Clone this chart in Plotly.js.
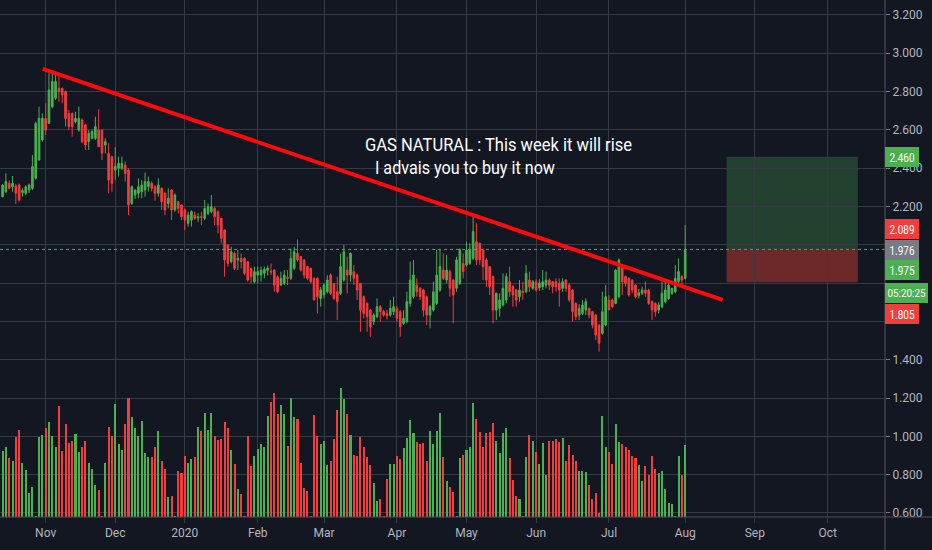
<!DOCTYPE html>
<html><head><meta charset="utf-8">
<script src="https://cdn.plot.ly/plotly-3.0.1.min.js"></script>
<style>html,body{margin:0;padding:0;background:#131722;}#chart{width:932px;height:550px;}</style>
</head><body><div id="chart"></div>
<script>
// ---- daily OHLC (natural gas), bars from 2019-10-15 to 2020-08-03 ----
const open = [
2.251,2.277,2.321,2.303,2.307,2.312,2.272,2.269,2.286,2.295,
2.347,2.443,2.547,2.660,2.634,2.721,2.765,2.817,2.817,2.800,
2.686,2.686,2.643,2.599,2.652,2.626,2.538,2.556,2.556,2.599,
2.599,2.521,2.478,2.460,2.390,
2.400,2.400,2.417,2.390,2.216,2.260,2.269,2.277,2.286,2.304,
2.321,2.303,2.269,2.295,2.269,2.216,2.286,2.182,2.225,2.208,
2.182,2.112,2.129,2.155,2.140,2.147,2.138,2.164,2.173,2.190,
2.173,2.138,2.077,1.999,1.912,
1.955,1.921,1.929,1.929,1.912,1.877,1.807,1.842,1.842,1.851,
1.866,1.862,1.868,1.833,1.790,1.799,1.830,1.825,1.877,1.955,
1.938,1.921,1.886,1.877,1.825,1.825,1.720,1.738,1.755,1.842,
1.799,1.755,1.746,1.816,1.868,
1.842,1.860,1.842,1.799,1.729,1.694,1.659,1.599,1.625,1.677,
1.651,1.640,1.633,1.651,1.668,1.651,1.590,1.599,1.694,1.729,
1.790,1.773,1.764,1.729,1.633,1.659,1.694,1.764,1.868,1.816,
1.860,1.816,1.773,1.799,1.903,
1.895,1.903,1.929,2.016,2.008,1.973,1.921,1.886,1.834,1.659,
1.668,1.686,1.712,1.807,1.781,1.764,1.729,1.757,1.755,1.816,
1.773,1.807,1.775,1.781,1.790,1.816,1.807,1.807,1.799,1.773,
1.816,1.790,1.764,1.694,1.633,
1.642,1.660,1.668,1.651,1.633,1.581,1.538,1.581,1.712,1.712,
1.694,1.729,1.886,1.834,1.825,1.816,1.790,1.735,1.747,1.764,
1.764,1.703,1.694,1.660,1.677,1.703,1.720,1.747,1.755,1.808,
1.834,1.825];
const high = [
2.316,2.373,2.335,2.359,2.318,2.320,2.295,2.310,2.320,2.469,
2.643,2.721,2.686,2.739,2.895,2.904,2.895,2.878,2.820,2.805,
2.704,2.690,2.695,2.721,2.660,2.630,2.599,2.600,2.669,2.707,
2.600,2.556,2.530,2.460,2.510,
2.460,2.460,2.434,2.400,2.310,2.290,2.347,2.338,2.377,2.356,
2.330,2.310,2.347,2.300,2.275,2.295,2.290,2.268,2.230,2.210,
2.190,2.173,2.180,2.173,2.165,2.173,2.234,2.216,2.260,2.200,
2.180,2.140,2.080,2.000,1.990,
1.964,1.973,1.955,1.935,1.915,1.880,1.886,1.886,1.886,1.886,
1.892,1.903,1.872,1.840,1.860,1.868,1.868,1.981,1.990,2.028,
1.940,1.925,1.890,1.880,1.830,1.830,1.780,1.799,1.842,1.851,
1.800,1.833,1.955,1.999,1.938,
1.960,1.894,1.850,1.800,1.735,1.700,1.665,1.642,1.720,1.686,
1.660,1.660,1.712,1.729,1.680,1.660,1.659,1.755,1.912,1.921,
1.825,1.780,1.770,1.735,1.686,1.807,1.973,1.973,1.955,1.947,
1.870,1.820,1.938,1.982,1.955,
2.016,2.008,2.164,2.112,2.010,1.980,1.930,1.890,1.840,1.750,
1.747,1.851,1.851,1.886,1.790,1.770,1.816,1.807,1.894,1.860,
1.816,1.820,1.820,1.868,1.860,1.825,1.810,1.825,1.825,1.825,
1.820,1.800,1.770,1.700,1.690,
1.712,1.720,1.672,1.655,1.640,1.585,1.755,1.790,1.738,1.720,
1.872,1.929,1.895,1.840,1.830,1.820,1.795,1.770,1.781,1.808,
1.770,1.710,1.700,1.700,1.808,1.816,1.808,1.770,1.894,1.929,
1.840,2.103];
const low = [
2.248,2.269,2.290,2.277,2.213,2.225,2.251,2.260,2.270,2.286,
2.340,2.440,2.538,2.573,2.630,2.713,2.756,2.747,2.739,2.617,
2.599,2.565,2.634,2.591,2.530,2.495,2.495,2.550,2.547,2.512,
2.443,2.478,2.269,2.277,2.340,
2.356,2.390,2.330,2.155,2.208,2.240,2.243,2.243,2.251,2.278,
2.278,2.230,2.251,2.182,2.155,2.190,2.129,2.173,2.164,2.129,
2.077,2.095,2.095,2.129,2.120,2.103,2.129,2.155,2.164,2.103,
2.060,2.008,1.833,1.886,1.903,
1.868,1.868,1.877,1.842,1.807,1.799,1.799,1.799,1.807,1.825,
1.840,1.842,1.755,1.746,1.787,1.790,1.790,1.816,1.868,1.912,
1.860,1.825,1.816,1.799,1.712,1.642,1.677,1.720,1.746,1.738,
1.712,1.607,1.738,1.807,1.746,
1.807,1.790,1.712,1.546,1.616,1.546,1.520,1.581,1.616,1.599,
1.625,1.610,1.625,1.633,1.599,1.520,1.581,1.590,1.677,1.720,
1.729,1.712,1.625,1.581,1.564,1.651,1.686,1.755,1.816,1.799,
1.729,1.590,1.755,1.790,1.825,
1.886,1.895,1.921,1.895,1.895,1.816,1.781,1.738,1.590,1.607,
1.625,1.677,1.694,1.729,1.677,1.677,1.703,1.712,1.747,1.755,
1.764,1.755,1.760,1.764,1.773,1.764,1.747,1.755,1.677,1.755,
1.755,1.703,1.599,1.607,1.607,
1.633,1.633,1.616,1.564,1.503,1.442,1.530,1.575,1.660,1.668,
1.690,1.720,1.738,1.781,1.729,1.747,1.720,1.720,1.738,1.729,
1.686,1.607,1.625,1.642,1.668,1.694,1.712,1.738,1.747,1.799,
1.781,1.820];
const close = [
2.312,2.330,2.295,2.321,2.269,2.234,2.283,2.303,2.312,2.408,
2.634,2.660,2.660,2.599,2.808,2.852,2.852,2.800,2.782,2.660,
2.617,2.617,2.660,2.660,2.538,2.521,2.582,2.591,2.617,2.512,
2.478,2.538,2.338,2.321,2.410,
2.425,2.425,2.373,2.208,2.303,2.286,2.303,2.312,2.330,2.330,
2.295,2.269,2.312,2.225,2.182,2.243,2.182,2.260,2.190,2.147,
2.129,2.155,2.173,2.138,2.146,2.144,2.190,2.199,2.199,2.147,
2.103,2.034,1.921,1.903,1.964,
1.877,1.929,1.912,1.851,1.816,1.833,1.860,1.860,1.868,1.872,
1.878,1.858,1.790,1.755,1.825,1.842,1.825,1.929,1.964,1.921,
1.868,1.842,1.825,1.807,1.712,1.729,1.764,1.790,1.816,1.746,
1.720,1.703,1.886,1.964,1.842,
1.955,1.825,1.764,1.659,1.642,1.625,1.572,1.633,1.677,1.651,
1.633,1.630,1.668,1.677,1.616,1.572,1.616,1.703,1.816,1.842,
1.755,1.729,1.659,1.633,1.677,1.755,1.842,1.886,1.825,1.868,
1.773,1.738,1.921,1.973,1.860,
1.973,1.973,2.069,1.921,1.921,1.886,1.816,1.781,1.659,1.747,
1.712,1.773,1.834,1.755,1.738,1.712,1.764,1.750,1.851,1.781,
1.807,1.764,1.800,1.807,1.816,1.790,1.781,1.781,1.764,1.807,
1.773,1.712,1.651,1.625,1.668,
1.686,1.703,1.633,1.581,1.529,1.486,1.651,1.729,1.660,1.677,
1.868,1.920,1.807,1.799,1.738,1.764,1.729,1.750,1.764,1.747,
1.694,1.660,1.651,1.686,1.747,1.764,1.790,1.773,1.825,1.860,
1.816,1.975];
// volume (thousand contracts)
const volume = [
132,141,119,112,160,175,109,95,49,61,3,161,165,179,191,163,141,223,133,187,
149,153,167,131,140,153,109,97,65,55,3,109,181,163,227,147,135,187,239,200,178,
163,193,128,121,121,140,172,113,96,40,43,3,93,89,123,109,116,121,181,172,
209,175,209,163,155,157,191,179,135,107,56,47,3,163,103,123,137,147,140,203,230,
249,207,225,207,143,239,200,197,109,59,53,3,205,163,147,153,105,113,157,215,
259,237,207,165,125,123,160,141,121,105,69,33,37,3,77,107,107,123,116,139,158,
195,169,151,147,149,113,173,147,172,209,121,73,61,51,3,119,124,135,
140,228,197,170,140,168,170,188,153,128,168,179,119,75,43,36,3,121,165,153,131,
107,149,85,153,153,156,151,158,112,144,125,112,93,93,91,65,36,49,8,203,
140,131,107,187,151,146,
140,135,123,119,104,72,103,84,123,97,88,93,56,29,27,3,123,84,144];

// calendar / axis labels
const firstDay = '2019-10-15';
const lastCalendarDay = '2020-11-30';
const holidays = ['2019-12-25','2020-01-01','2020-04-10'];
const monthKeys = ['2019-11','2019-12','2020-01','2020-02','2020-03','2020-04','2020-05','2020-06','2020-07','2020-08','2020-09','2020-10'];
const monthLabels = ['Nov','Dec','2020','Feb','Mar','Apr','May','Jun','Jul','Aug','Sep','Oct'];
const priceTicks = [0.6,0.8,1.0,1.2,1.4,1.6,1.8,2.0,2.2,2.4,2.6,2.8,3.0,3.2];
const priceTickText = ['0.600','0.800','1.000','1.200','1.400','','','','2.200','2.400','2.600','2.800','3.000','3.200'];

// trade setup / drawings
const trendStart = [12.1, 2.918], trendEnd = [217.3, 1.712];
const entry = 1.976, target = 2.460, stop = 1.805;
const priceTags = [
  {text:'2.460', color:'#4caf50', yc:156.5, w:34, size:13, fit:25},
  {text:'2.089', color:'#f23d3d', yc:228.8, w:34, size:13, fit:25},
  {text:'1.976', color:'#787b86', yc:250, w:34, size:13, fit:25},
  {text:'1.975', color:'#4caf50', yc:270, w:34, size:13, fit:25},
  {text:'05:20:25', color:'#4caf50', yc:293, w:43, size:11, fit:38},
  {text:'1.805', color:'#f23d3d', yc:314, w:34, size:13, fit:25}
];
const noteLines = ['GAS NATURAL : This week it will rise', 'I advais you to buy it now'];
const notePos = [{xc:498.5, yc:145, fit:267}, {xc:465, yc:168, fit:180}];

// build trading-day calendar
const days = [];
{
  let d = new Date(firstDay + 'T00:00:00Z');
  const end = new Date(lastCalendarDay + 'T00:00:00Z');
  while (d <= end) {
    const s = d.toISOString().slice(0,10), wd = d.getUTCDay();
    if (wd !== 0 && wd !== 6 && !holidays.includes(s)) days.push(s);
    d.setUTCDate(d.getUTCDate()+1);
  }
}
const tickvals = monthKeys.map(m => days.findIndex(s => s.startsWith(m)));
const x = close.map((_, i) => i);
const GREEN = '#4caf50', RED = '#f23d3d';
const volColors = close.map((c, i) => c >= open[i] ? GREEN : RED);

const FONT = 'Roboto, "Liberation Sans", sans-serif';
const PLOT_H = 517, PLOT_W = 885;

const traces = [
  {type:'bar', x:x, y:volume, yaxis:'y2', marker:{color:volColors, line:{width:0}}, width:0.62, hoverinfo:'skip'},
  {type:'candlestick', x:x, open:open, high:high, low:low, close:close, whiskerwidth:0,
   increasing:{line:{color:GREEN, width:1}, fillcolor:GREEN},
   decreasing:{line:{color:RED, width:1}, fillcolor:RED}, hoverinfo:'skip'}
];

const shapes = [
  {type:'rect', xref:'x', yref:'y', x0:218.5, x1:258.1, y0:entry, y1:target, fillcolor:'rgba(76,175,80,0.28)', line:{width:0}, layer:'below'},
  {type:'rect', xref:'x', yref:'y', x0:218.5, x1:258.1, y0:stop, y1:entry, fillcolor:'rgba(244,67,54,0.40)', line:{width:0}, layer:'below'},
  {type:'line', xref:'paper', yref:'y', x0:0, x1:1, y0:entry, y1:entry, line:{color:GREEN, width:1, dash:'dot'}},
  {type:'line', xref:'x', yref:'y', x0:trendStart[0], y0:trendStart[1], x1:trendEnd[0], y1:trendEnd[1], line:{color:'#ff0a0a', width:4}},
  {type:'line', xref:'paper', yref:'paper', x0:0, x1:932/PLOT_W, y0:0, y1:0, line:{color:'#50535e', width:1}},
  {type:'line', xref:'paper', yref:'paper', x0:1, x1:1, y0:-33/PLOT_H, y1:1, line:{color:'#50535e', width:1}}
];

const fits = [];
const annotations = priceTags.map(t => {
  fits.push(t.fit);
  return {
    xref:'paper', yref:'paper', x:1, xanchor:'left', y:1 - t.yc/PLOT_H, yanchor:'middle',
    text:t.text, showarrow:false, bgcolor:t.color, borderpad:0, borderwidth:0,
    width:t.w, height:20, align:'center', font:{family:FONT, size:t.size, color:'#ffffff'}
  };
});
noteLines.forEach((line, i) => {
  fits.push(notePos[i].fit);
  annotations.push({xref:'paper', yref:'paper', x:notePos[i].xc/PLOT_W, xanchor:'center',
    y:1-notePos[i].yc/PLOT_H, yanchor:'middle', text:line, showarrow:false, align:'center',
    font:{family:FONT, size:19, color:'#ffffff'}});
});

const layout = {
  width:932, height:550,
  margin:{l:0, r:47, t:0, b:33, pad:0},
  paper_bgcolor:'#131722', plot_bgcolor:'#131722',
  showlegend:false, bargap:0,
  xaxis:{range:[-0.78, 266.3], tickmode:'array', tickvals:tickvals, ticktext:monthLabels,
         showgrid:true, gridcolor:'#363a45', gridwidth:1, zeroline:false, showline:false,
         ticks:'outside', ticklen:5, tickcolor:'#363a45',
         tickfont:{family:FONT, size:12, color:'#b2b5be'}, rangeslider:{visible:false}, fixedrange:true},
  yaxis:{range:[0.579, 3.278], side:'right', tickmode:'array', tickvals:priceTicks, ticktext:priceTickText,
         showgrid:true, gridcolor:'#363a45', gridwidth:1, zeroline:false, showline:false,
         ticks:'outside', ticklen:4, tickcolor:'#787b86',
         tickfont:{family:FONT, size:12, color:'#b2b5be'}, fixedrange:true},
  yaxis2:{overlaying:'y', range:[0, 2*PLOT_H], visible:false, showgrid:false, zeroline:false, fixedrange:true},
  shapes:shapes, annotations:annotations
};
Plotly.newPlot('chart', traces, layout, {displayModeBar:false, staticPlot:true}).then(() => {
  document.querySelectorAll('g.annotation').forEach(g => {
    const idx = +g.getAttribute('data-index');
    const t = g.querySelector('text.annotation-text');
    if (t && fits[idx]) {
      const natural = t.getComputedTextLength();
      if (natural > fits[idx]) {
        t.setAttribute('textLength', fits[idx]);
        t.setAttribute('lengthAdjust', 'spacingAndGlyphs');
      }
    }
  });
});
</script></body></html>
